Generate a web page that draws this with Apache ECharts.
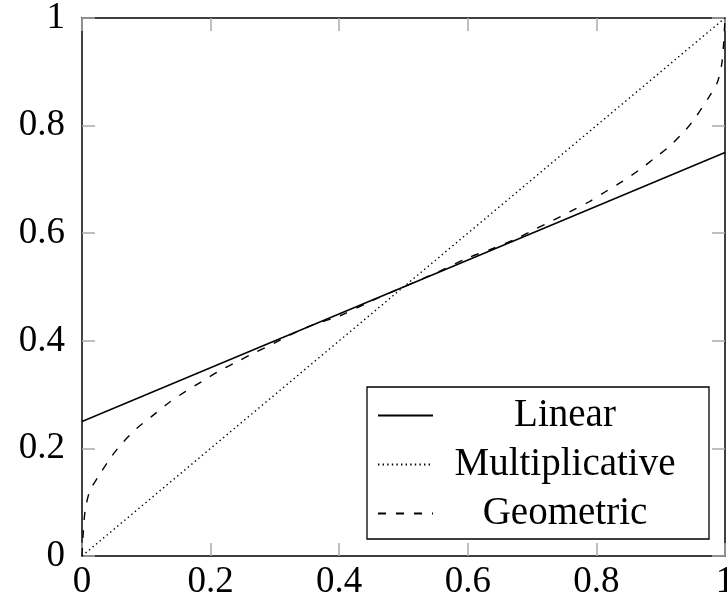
<!DOCTYPE html>
<html>
<head>
<meta charset="utf-8">
<script src="https://cdn.jsdelivr.net/npm/echarts@6/dist/echarts.min.js"></script>
<style>
html, body { margin: 0; padding: 0; background: #fff; }
#chart { width: 727px; height: 603px; }
</style>
</head>
<body>
<div id="chart"></div>
<script>
// values
var linearX = [0, 1];
var linearY = [0.25, 0.75];
var multX = [0, 1];
var multY = [0, 1];
var geoX = [0, 0.002, 0.005, 0.012, 0.025, 0.046, 0.062, 0.085, 0.108, 0.134, 0.16, 0.186, 0.212, 0.241, 0.267, 0.298, 0.324, 0.36, 0.4, 0.45, 0.5,
    0.55, 0.6, 0.64, 0.676, 0.702, 0.733, 0.759, 0.788, 0.814, 0.84, 0.866, 0.892, 0.915, 0.938, 0.954, 0.975, 0.988, 0.995, 0.998, 1];
var geoY = [0, 0.045, 0.085, 0.12, 0.147, 0.185, 0.209, 0.237, 0.259, 0.284, 0.305, 0.324, 0.343, 0.361, 0.377, 0.395, 0.411, 0.43, 0.446, 0.474, 0.5,
    0.526, 0.554, 0.572, 0.59, 0.606, 0.624, 0.64, 0.658, 0.677, 0.696, 0.717, 0.741, 0.763, 0.791, 0.815, 0.853, 0.88, 0.915, 0.955, 1];
var seriesNames = ['Linear', 'Multiplicative', 'Geometric'];

function pairs(xs, ys) {
    return xs.map(function (x, i) { return [x, ys[i]]; });
}

var font = '"Liberation Serif", "DejaVu Serif", serif';
var tickStyle = { show: true, inside: true, length: 13, lineStyle: { color: '#aaa', width: 1.5 } };

var myChart = echarts.init(document.getElementById('chart'));
var option = {
    animation: false,
    grid: { left: 82, right: 2, top: 18, bottom: 47, containLabel: false, outerBoundsMode: 'none' },
    legend: {
        orient: 'vertical',
        left: 367,
        top: 387,
        data: seriesNames,
        itemWidth: 55,
        itemHeight: 14,
        itemGap: 10,
        padding: [9, 17, 6, 10],
        borderColor: '#000',
        borderWidth: 1.3,
        itemStyle: { opacity: 0, borderWidth: 0 },
        formatter: '{c|{name}}',
        textStyle: {
            rich: {
                c: { width: 254, align: 'center', fontFamily: font, fontSize: 39, lineHeight: 40, color: '#000' }
            }
        }
    },
    xAxis: [{
        type: 'value', min: 0, max: 1, interval: 0.2,
        axisLine: { show: true, lineStyle: { color: '#000', width: 1.5 } },
        axisTick: tickStyle,
        splitLine: { show: false },
        axisLabel: { fontFamily: font, fontSize: 37, color: '#000', margin: 8, showMaxLabel: true, showMinLabel: true }
    }, {
        type: 'value', min: 0, max: 1, interval: 0.2, position: 'top',
        axisLine: { show: true, onZero: false, lineStyle: { color: '#000', width: 1.5 } },
        axisTick: tickStyle,
        splitLine: { show: false },
        axisLabel: { show: false }
    }],
    yAxis: [{
        type: 'value', min: 0, max: 1, interval: 0.2,
        axisLine: { show: true, lineStyle: { color: '#000', width: 1.5 } },
        axisTick: tickStyle,
        splitLine: { show: false },
        axisLabel: { fontFamily: font, fontSize: 37, color: '#000', margin: 17, showMaxLabel: true, showMinLabel: true }
    }, {
        type: 'value', min: 0, max: 1, interval: 0.2, position: 'right',
        axisLine: { show: true, onZero: false, lineStyle: { color: '#000', width: 1.5 } },
        axisTick: tickStyle,
        splitLine: { show: false },
        axisLabel: { show: false }
    }],
    series: [{
        name: seriesNames[0], type: 'line', symbol: 'none',
        data: pairs(linearX, linearY),
        lineStyle: { color: '#000', width: 1.4, type: 'solid' },
        itemStyle: { color: '#000' }
    }, {
        name: seriesNames[1], type: 'line', symbol: 'none',
        data: pairs(multX, multY),
        lineStyle: { color: '#000', width: 1.4, type: [1.4, 3.2] },
        itemStyle: { color: '#000' }
    }, {
        name: seriesNames[2], type: 'line', symbol: 'none', smooth: 0.3,
        data: pairs(geoX, geoY),
        lineStyle: { color: '#000', width: 1.4, type: [8, 10] },
        itemStyle: { color: '#000' }
    }]
};
myChart.setOption(option);
</script>
</body>
</html>
